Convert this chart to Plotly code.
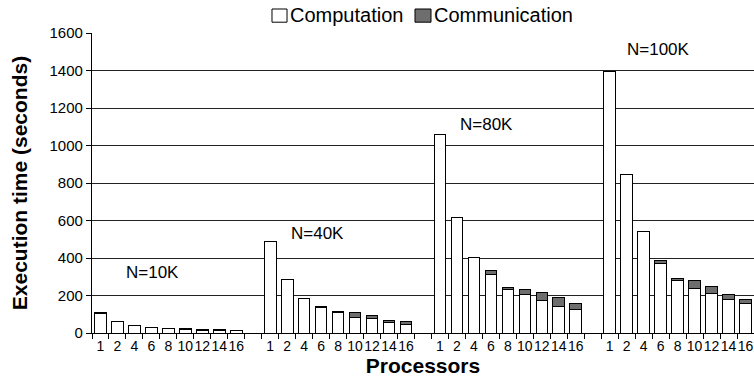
import plotly.graph_objects as go

processors = [1, 2, 4, 6, 8, 10, 12, 14, 16]
sizes = ["N=10K", "N=40K", "N=80K", "N=100K"]

computation = [
    [106, 63, 40, 28, 22, 20, 16, 14, 12],
    [489, 288, 183, 136, 111, 84, 77, 57, 45],
    [1061, 615, 405, 313, 231, 203, 173, 142, 125],
    [1394, 845, 539, 373, 281, 238, 210, 178, 158],
]
communication = [
    [1, 1, 1, 2, 3, 5, 5, 5, 4],
    [0, 0, 0, 3, 3, 25, 17, 11, 19],
    [0, 0, 0, 20, 14, 28, 42, 45, 35],
    [0, 0, 0, 16, 11, 41, 39, 27, 22],
]
series_names = ["Computation", "Communication"]
series_colors = ["white", "#6e6e6e"]
# label anchor positions (category index, seconds)
label_x = [3.09, 12.76, 22.75, 32.9]
label_y = [324, 532, 1113, 1513]

# categories: each group of processors followed by an empty gap slot
cats, cat_text = [], []
xs, comp_vals, comm_vals = [], [], []
for g in range(len(sizes)):
    for i, p in enumerate(processors):
        cid = f"{sizes[g]}|{p}"
        cats.append(cid)
        cat_text.append(str(p))
        xs.append(cid)
        comp_vals.append(computation[g][i])
        comm_vals.append(communication[g][i])
    if g < len(sizes) - 1:
        cats.append(f"gap{g}")
        cat_text.append("")

FONT = "Liberation Sans, Arial, sans-serif"

fig = go.Figure()
for name, color, vals in zip(series_names, series_colors, [comp_vals, comm_vals]):
    fig.add_trace(go.Bar(
        x=xs, y=vals, name=name,
        marker=dict(color=color, line=dict(color="black", width=1)),
    ))

for txt, lx, ly in zip(sizes, label_x, label_y):
    fig.add_annotation(x=lx, y=ly, text=txt, showarrow=False,
                       font=dict(size=17, color="black", family=FONT),
                       xanchor="center", yanchor="middle")

# legend drawn as swatch + text at the top centre
leg_swatch_x = [(0.2719, 0.2946), (0.4879, 0.5121)]
leg_text_x = [0.2966, 0.5141]
for name, color, (sx0, sx1), tx in zip(series_names, series_colors, leg_swatch_x, leg_text_x):
    fig.add_shape(type="rect", xref="paper", yref="paper", x0=sx0, x1=sx1, y0=1.036, y1=1.080,
                  fillcolor=color, line=dict(color="black", width=1))
    fig.add_annotation(xref="paper", yref="paper", x=tx, y=1.060, text=name, showarrow=False,
                       xanchor="left", yanchor="middle",
                       font=dict(size=20, color="black", family=FONT))

fig.update_layout(
    width=754, height=380,
    margin=dict(l=92, r=0, t=33, b=47),
    barmode="stack", bargap=0.316,
    paper_bgcolor="white", plot_bgcolor="white",
    font=dict(family=FONT, color="black"),
    showlegend=False,
    xaxis=dict(
        type="category", categoryorder="array", categoryarray=cats,
        range=[-0.5, len(cats) - 0.5],
        tickmode="array", tickvals=cats, ticktext=cat_text, tickangle=0,
        tickson="boundaries", ticks="outside", ticklen=5, tickcolor="black", tickwidth=1,
        tickfont=dict(size=14, color="black"),
        showline=True, linecolor="black", linewidth=1.2,
        showgrid=False, zeroline=False,
        title=dict(text="<b>Processors</b>", font=dict(size=21, color="black"), standoff=4),
    ),
    yaxis=dict(
        range=[0, 1600], tickmode="linear", tick0=0, dtick=200,
        ticks="outside", ticklen=5, tickcolor="black",
        tickfont=dict(size=15, color="black"),
        showline=True, linecolor="black", linewidth=1.2,
        showgrid=True, gridcolor="#222222", gridwidth=1,
        zeroline=False,
        title=dict(text="<b>Execution time (seconds)</b>", font=dict(size=21, color="black"), standoff=16),
    ),
)

fig.write_html("out.html")
